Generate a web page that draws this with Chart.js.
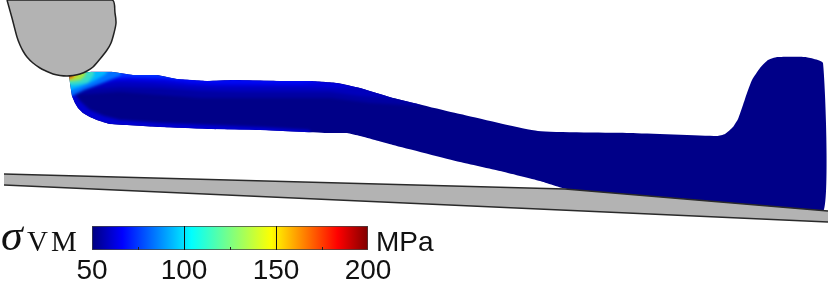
<!DOCTYPE html>
<html>
<head>
<meta charset="utf-8">
<title>Von Mises stress</title>
<script src="https://cdn.jsdelivr.net/npm/chart.js@4"></script>
<style>
  html, body { margin: 0; padding: 0; background: #fff; overflow: hidden; }
  #wrap { position: relative; width: 830px; height: 282px; }
  canvas { position: absolute; left: 0; top: 0; }
  #stage { position: absolute; left: 0; top: 0; width: 830px; height: 282px; filter: blur(0.6px); }
  #fieldClip { position: absolute; left: 0; top: 0; width: 830px; height: 282px; }
  #field { filter: blur(1.6px); }
  #bar { filter: blur(0.3px); }
  .lbl { position: absolute; color: #111; white-space: nowrap; line-height: 1; }
</style>
</head>
<body>
<div id="wrap">
  <div id="stage">
    <canvas id="sheet" width="830" height="282"></canvas>
    <div id="fieldClip"><canvas id="field" width="830" height="282"></canvas></div>
    <canvas id="tools" width="830" height="282"></canvas>
  </div>
  <canvas id="bar" width="830" height="282"></canvas>
  <div class="lbl" style="left:1px;top:210px;font:italic 44px 'Liberation Serif'">σ</div>
  <div class="lbl" style="left:27px;top:225px;font:29px 'Liberation Serif';letter-spacing:3px">VM</div>
  <div class="lbl" style="left:376px;top:226px;font:28px 'Liberation Sans'">MPa</div>
</div>
<script>
// outlines (x runs right, y runs down)
const dieX = [7, 12, 17, 20, 23, 27, 33, 40, 46, 53, 60, 67, 73, 80, 87, 93, 100, 107, 111, 114, 116, 115, 112];
const dieY = [0, 18, 37, 45, 51, 57, 63, 68, 71, 74, 75.5, 76, 75.5, 74, 71, 67, 59, 50, 43, 33, 23, 13, 0];

const railX = [4, 565, 828, 828, 4];
const railY = [174, 189, 211, 222, 185];
const railTopX = [4, 565, 828];
const railTopY = [174, 189, 211];
const railLowX = [4, 828];
const railLowY = [185, 222];

const sheetX = [69, 78, 90, 113, 133, 157, 177, 207, 233, 280, 310, 337, 360, 393, 460, 538, 630, 717, 725, 733, 738, 743, 747, 752, 760, 768, 777, 805, 823, 823, 567, 540, 500, 460, 393, 375, 360, 347, 327, 260, 210, 160, 110, 103, 97, 90, 83, 78, 75, 72, 71];
const sheetY = [76, 73, 72, 72, 75, 75, 79, 81, 80, 81, 81, 83, 88, 98, 114, 131, 133, 136, 134, 127, 119, 105, 93, 80, 68, 60, 57, 57, 63, 212, 189, 181, 171, 162, 145, 140, 136, 133, 133, 130, 129, 127, 124, 122, 120, 117, 113, 108, 103, 96, 90];

// colour bands of the stress field, each drawn past the outline and cut back to it
const fieldTopX = [58, 78, 90, 113, 133, 157, 177, 207, 233, 280, 310, 337, 360, 393, 420];
const fieldTopY = [64, 64, 64, 64, 66, 66, 70, 72, 71, 72, 72, 74, 79, 89, 97];
const bandColors = ['#0000a2', '#0000bc', '#0000d8', '#0008f4', '#0030ff'];
const bandEndX = [420, 393, 360, 320, 180];
const bandLowX = [
  [420, 370, 330, 280, 240, 200, 160, 120, 90, 58],
  [393, 360, 330, 280, 240, 200, 160, 120, 90, 58],
  [360, 337, 300, 260, 220, 190, 150, 120, 90, 58],
  [320, 300, 260, 215, 190, 165, 130, 100, 58],
  [180, 165, 130, 100, 58]
];
const bandLowY = [
  [106, 103, 98, 98, 98, 98, 95, 92, 94, 95],
  [98, 96, 92, 92, 92, 91, 88, 87, 89, 90],
  [87, 88, 87, 87, 87, 86, 83, 82, 85, 86],
  [82, 84, 84, 84, 83, 80, 79, 80, 80],
  [79, 78, 77, 78, 78]
];

const lowGlowX = [58, 72, 80, 90, 104, 120, 160, 210, 260, 310, 310, 260, 210, 160, 110, 90, 58];
const lowGlowY = [88, 90, 101, 110, 116, 120, 123, 125, 127, 130, 140, 138, 136, 134, 132, 130, 130];
const lowGlowColor = '#0000d0';

// hot spot under the roller
const hotColors = ['#0070ff', '#00b8ff', '#38dcc8', '#a8e440', '#f4b000', '#d04a10'];
const hotX = [
  [58, 125, 120, 100, 84, 72, 58],
  [58, 110, 106, 94, 80, 71, 58],
  [58, 94, 94, 88, 75, 71, 58],
  [58, 86, 85, 80, 72, 58],
  [58, 78, 77, 72, 58],
  [58, 75, 74, 71, 58]
];
const hotY = [
  [64, 64, 76, 84, 90, 96, 96],
  [64, 64, 74, 81, 87, 90, 90],
  [64, 64, 75, 83, 85, 85, 85],
  [64, 64, 76, 80, 81, 81],
  [64, 64, 75, 79, 79],
  [64, 64, 74, 78, 78]
];

// colour bar
const barRange = [50, 200];
const barTicks = [50, 100, 150, 200];
const jetStops = [0, 0.11, 0.36, 0.65, 0.89, 1];
const jetColors = ['#00007f', '#0000ff', '#00ffff', '#ffff00', '#ff0000', '#7f0000'];

function poly(xs, ys) {
  const pts = xs.map(function (x, i) { return { x: x, y: ys[i] }; });
  pts.push(pts[0]);
  return pts;
}

function filled(xs, ys, color, tension) {
  return { data: poly(xs, ys), fill: 'shape', backgroundColor: color, borderWidth: 0, pointRadius: 0, tension: tension || 0 };
}

function stroke(xs, ys) {
  return {
    data: xs.map(function (x, i) { return { x: x, y: ys[i] }; }),
    fill: false, borderColor: '#2a2a2a', borderWidth: 1.5, pointRadius: 0
  };
}

// datasets are listed in the order they get painted
function shapeChart(id, layers) {
  layers.forEach(function (d, i) { d.order = layers.length - i; });
  return new Chart(document.getElementById(id), {
    type: 'line',
    data: { datasets: layers },
    options: {
      responsive: false,
      animation: false,
      clip: false,
      layout: { padding: 0 },
      plugins: { legend: { display: false }, tooltip: { enabled: false } },
      scales: {
        x: { type: 'linear', min: 0, max: 830, display: false },
        y: { type: 'linear', min: 0, max: 282, reverse: true, display: false }
      }
    }
  });
}

const sheetChart = shapeChart('sheet', [filled(sheetX, sheetY, '#000088', 0.15)]);

const fieldLayers = [filled(lowGlowX, lowGlowY, lowGlowColor)];
bandColors.forEach(function (c, k) {
  const end = fieldTopX.filter(function (x) { return x <= bandEndX[k]; }).length;
  fieldLayers.push(filled(
    fieldTopX.slice(0, end).concat(bandLowX[k]),
    fieldTopY.slice(0, end).concat(bandLowY[k]),
    c
  ));
});
hotColors.forEach(function (c, k) { fieldLayers.push(filled(hotX[k], hotY[k], c)); });
shapeChart('field', fieldLayers);

// cut the soft field back to the sheet outline
const outline = sheetX.map(function (x, i) {
  return sheetChart.scales.x.getPixelForValue(x) + 'px ' + sheetChart.scales.y.getPixelForValue(sheetY[i]) + 'px';
});
document.getElementById('fieldClip').style.clipPath = 'polygon(' + outline.join(',') + ')';

const die = filled(dieX, dieY, '#b3b3b3', 0.3);
die.borderWidth = 1.5;
die.borderColor = '#222';
shapeChart('tools', [filled(railX, railY, '#b3b3b3'), stroke(railTopX, railTopY), stroke(railLowX, railLowY), die]);

new Chart(document.getElementById('bar'), {
  type: 'bar',
  data: {
    labels: ['stress'],
    datasets: [{
      data: [barRange],
      barPercentage: 1,
      categoryPercentage: 1,
      borderWidth: 1,
      borderColor: '#444',
      borderSkipped: false,
      backgroundColor: function (context) {
        const area = context.chart.chartArea;
        if (!area) return jetColors[0];
        const g = context.chart.ctx.createLinearGradient(area.left, 0, area.right, 0);
        jetStops.forEach(function (s, i) { g.addColorStop(s, jetColors[i]); });
        return g;
      }
    }]
  },
  options: {
    indexAxis: 'y',
    responsive: false,
    animation: false,
    layout: { padding: { left: 92, right: 462, top: 226, bottom: 0 } },
    plugins: { legend: { display: false }, tooltip: { enabled: false } },
    scales: {
      y: { display: false },
      x: {
        type: 'linear',
        min: barRange[0],
        max: barRange[1],
        border: { display: false },
        grid: {
          z: 1,
          tickLength: -3,
          color: function (c) { return barTicks.slice(1, 3).includes(c.tick.value) ? '#111' : 'rgba(0,0,0,0)'; },
          tickColor: function (c) { return barTicks.includes(c.tick.value) ? 'rgba(0,0,0,0)' : '#222'; }
        },
        ticks: {
          stepSize: 25,
          autoSkip: false,
          maxRotation: 0,
          padding: 7,
          color: '#111',
          font: { family: 'Liberation Sans', size: 28 },
          callback: function (v) { return barTicks.includes(v) ? String(v) : ''; }
        },
        afterFit: function (scale) { scale.height = 32; }
      }
    }
  }
});
</script>
</body>
</html>
